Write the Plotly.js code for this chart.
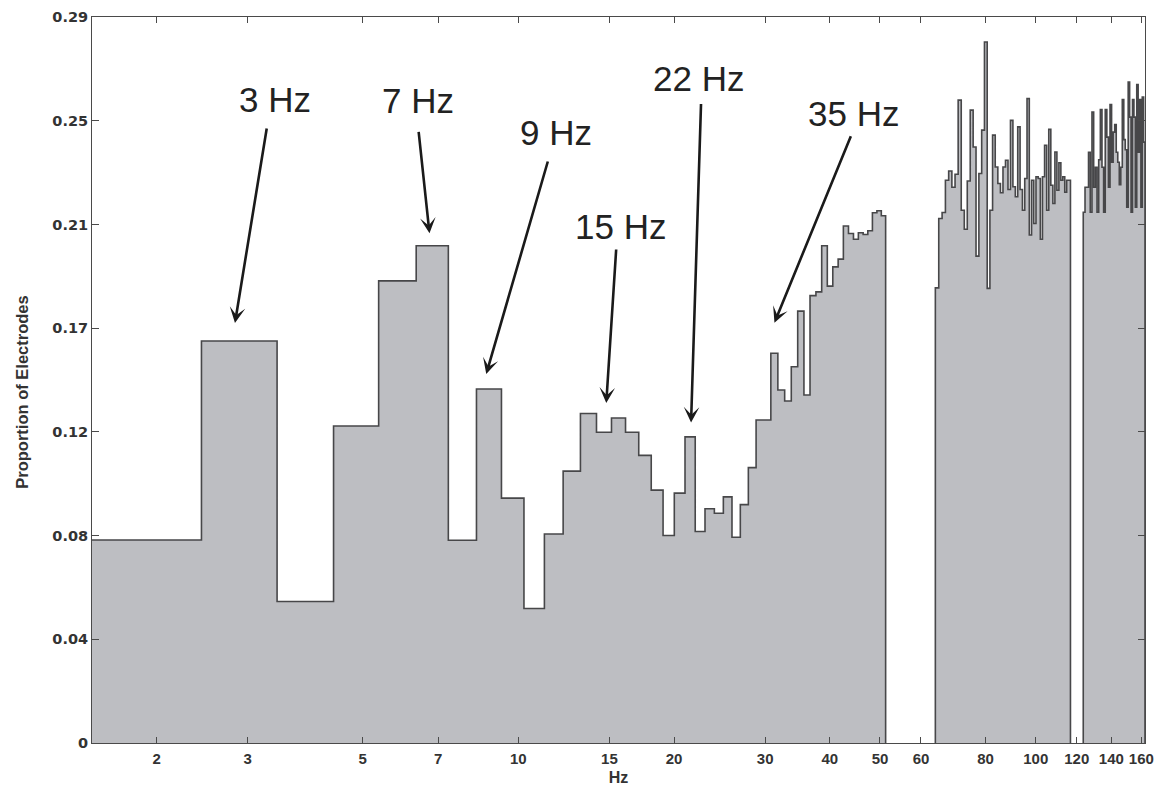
<!DOCTYPE html>
<html>
<head>
<meta charset="utf-8">
<script src="https://cdn.plot.ly/plotly-3.0.1.min.js"></script>
<style>html,body{margin:0;padding:0;background:#fff;}#chart{width:1168px;height:798px;}</style>
</head>
<body>
<div id="chart"></div>
<script>
// Frequency resolution of the spectral bins (Hz per bin)
const binWidthHz = 1000 / 1024;

// Segment 1: bins 2..52
const seg1StartBin = 2;
const seg1Values = [
  0.0811, 0.1606, 0.0565, 0.1266, 0.1846, 0.1986, 0.0810, 0.1414, 0.0978, 0.0537,
  0.0835, 0.1086, 0.1316, 0.1241, 0.1298, 0.1241, 0.1149, 0.1010, 0.0829, 0.0998,
  0.1223, 0.0845, 0.0936, 0.0918, 0.0983, 0.0822, 0.0952, 0.1100, 0.1290, 0.1290,
  0.1557, 0.1410, 0.1366, 0.1503, 0.1725, 0.1390, 0.1787, 0.1802, 0.1986, 0.1825,
  0.1902, 0.1933, 0.2065, 0.2035, 0.2012, 0.2038, 0.2031, 0.2046, 0.2118, 0.2126,
  0.2106
];

// Segment 2: bins 66..119
const seg2StartBin = 66;
const seg2Values = [
  0.1818, 0.2095, 0.2119, 0.2248, 0.2285, 0.2220, 0.2272, 0.2568, 0.2128, 0.2052,
  0.2245, 0.2528, 0.2381, 0.1945, 0.2275, 0.2448, 0.2800, 0.1816, 0.2128, 0.2428,
  0.2301, 0.2235, 0.2198, 0.2301, 0.2328, 0.2211, 0.2487, 0.2222, 0.2182, 0.2461,
  0.2211, 0.2128, 0.2255, 0.2574, 0.2029, 0.2248, 0.2075, 0.2262, 0.2255, 0.2012,
  0.2262, 0.2388, 0.2128, 0.2451, 0.2228, 0.2155, 0.2361, 0.2208, 0.2318, 0.2248,
  0.2262, 0.2200, 0.2248, 0.2248
];

// Segment 3: bins 127..166
const seg3StartBin = 127;
const seg3Values = [
  0.2120, 0.2220, 0.2220, 0.2360, 0.2120, 0.2520, 0.2220, 0.2300, 0.2120, 0.2330,
  0.2530, 0.2300, 0.2120, 0.2530, 0.2420, 0.2220, 0.2550, 0.2320, 0.2440, 0.2470,
  0.2360, 0.2320, 0.2230, 0.2300, 0.2570, 0.2410, 0.2370, 0.2140, 0.2640, 0.2500,
  0.2120, 0.2570, 0.2500, 0.2140, 0.2630, 0.2360, 0.2570, 0.2140, 0.2580, 0.2400
];

const xTickVals = [2, 3, 5, 7, 10, 15, 20, 30, 40, 50, 60, 80, 100, 120, 140, 160];
const xTickText = ['2', '3', '5', '7', '10', '15', '20', '30', '40', '50', '60', '80', '100', '120', '140', '160'];
const yMax = 0.29;
const yTickText = ['0', '0.04', '0.08', '0.12', '0.17', '0.21', '0.25', '0.29'];
const xTitle = 'Hz';
const yTitle = 'Proportion of Electrodes';

// Annotation labels and arrow heads (frequency Hz, proportion)
const annLabels = ['3 Hz', '7 Hz', '9 Hz', '15 Hz', '22 Hz', '35 Hz'];
const annHeadFreq = [2.834, 6.735, 8.67, 14.79, 21.57, 31.26];
const annHeadVal = [0.1678, 0.2036, 0.1474, 0.1358, 0.1280, 0.1679];

// ---- styling ----
const FILL = '#bdbec2';
const LINE = '#474749';
const AXC = '#4a4a4a';
const FONT = 'Liberation Sans, Arial, Helvetica, sans-serif';
const YTFONT = 'DejaVu Sans, Liberation Sans, sans-serif';

function stepTrace(startBin, vals) {
  const x = [], y = [];
  const e0 = (startBin - 0.5) * binWidthHz;
  x.push(e0); y.push(0);
  vals.forEach((v, i) => { x.push((startBin + i - 0.5) * binWidthHz); y.push(v); });
  const en = (startBin + vals.length - 0.5) * binWidthHz;
  x.push(en); y.push(vals[vals.length - 1]);
  x.push(en); y.push(0);
  return {
    type: 'scatter', mode: 'lines', x: x, y: y,
    line: { shape: 'hv', color: LINE, width: 1.6 },
    fill: 'tozeroy', fillcolor: FILL, hoverinfo: 'skip', showlegend: false
  };
}

const traces = [
  stepTrace(seg1StartBin, seg1Values),
  stepTrace(seg2StartBin, seg2Values),
  stepTrace(seg3StartBin, seg3Values)
];

// arrow tail offsets (pixels) and text offsets relative to head (pixels)
const arrowTail = [[32, -196], [-11, -103], [62, -214], [10, -155], [10, -320], [77, -188]];
const textOff = [[40.5, -223], [-11.8, -133.3], [69.5, -241], [14.5, -177], [7.8, -344], [79, -209]];

const annotations = [];
annLabels.forEach((lab, i) => {
  annotations.push({
    x: Math.log10(annHeadFreq[i]), y: annHeadVal[i], xref: 'x', yref: 'y',
    text: '', showarrow: true, arrowhead: 3, arrowsize: 1.0, arrowwidth: 2.6,
    arrowcolor: '#1a1a1a', ax: arrowTail[i][0], ay: arrowTail[i][1], axref: 'pixel', ayref: 'pixel'
  });
  annotations.push({
    x: Math.log10(annHeadFreq[i]), y: annHeadVal[i], xref: 'x', yref: 'y',
    text: lab, showarrow: false, xanchor: 'center', yanchor: 'middle',
    xshift: textOff[i][0], yshift: -textOff[i][1],
    font: { family: FONT, size: 35, color: '#222' }
  });
});
// y-axis title placed as rotated text
annotations.push({
  xref: 'paper', yref: 'paper', x: -0.0665, y: 0.4838, xanchor: 'center', yanchor: 'middle',
  text: yTitle, textangle: -90, showarrow: false,
  font: { family: FONT, size: 16.5, weight: 'bold', color: '#333' }
});

const layout = {
  width: 1168, height: 798,
  margin: { l: 92, r: 23, t: 17, b: 55 },
  paper_bgcolor: '#fff', plot_bgcolor: '#fff',
  showlegend: false,
  xaxis: {
    type: 'log', range: [Math.log10(1.5), Math.log10(162.6)],
    tickmode: 'array', tickvals: xTickVals, ticktext: xTickText, tickangle: 0,
    ticks: 'inside', ticklen: 6, tickwidth: 1, tickcolor: AXC,
    showline: true, linecolor: AXC, linewidth: 1, mirror: 'ticks',
    showgrid: false, zeroline: false, ticklabelstandoff: 2,
    tickfont: { family: FONT, size: 15, weight: 'bold', color: '#333' },
    title: { text: xTitle, font: { family: FONT, size: 16, weight: 'bold', color: '#333' }, standoff: 5 }
  },
  yaxis: {
    range: [0, yMax],
    tickmode: 'array', tickvals: yTickText.map((t, i) => i * yMax / 7), ticktext: yTickText,
    ticks: 'inside', ticklen: 7, tickwidth: 1, tickcolor: AXC,
    showline: true, linecolor: AXC, linewidth: 1, mirror: 'ticks',
    showgrid: false, zeroline: false,
    tickfont: { family: YTFONT, size: 14.5, weight: 'bold', color: '#333' }
  },
  annotations: annotations
};

Plotly.newPlot('chart', traces, layout, { displayModeBar: false, staticPlot: true });
</script>
</body>
</html>
